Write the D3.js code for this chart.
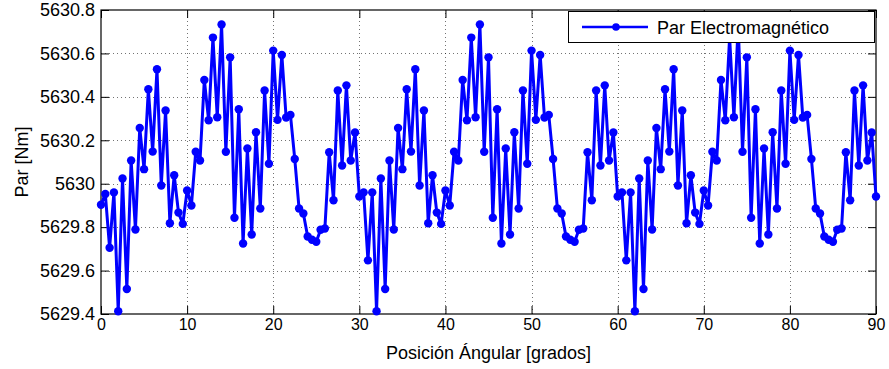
<!DOCTYPE html>
<html>
<head>
<meta charset="utf-8">
<script src="https://cdn.jsdelivr.net/npm/d3@7"></script>
<style>
  body { margin: 0; background: #fff; }
  text { font-family: "Liberation Sans", Arial, Helvetica, sans-serif; fill: #000; }
</style>
</head>
<body>
<div class="chart"></div>
<script>
// torque, one sample every 0.5 deg
const angleStep = 0.5;
const torque = [
  5629.903, 5629.953, 5629.705, 5629.960, 5629.413, 5630.024, 5629.515, 5630.107, 5629.789, 5630.257,
  5630.067, 5630.435, 5630.148, 5630.527, 5629.992, 5630.337, 5629.818, 5630.039, 5629.867, 5629.815,
  5629.969, 5629.900, 5630.147, 5630.107, 5630.478, 5630.292, 5630.673, 5630.306, 5630.733, 5630.147,
  5630.582, 5629.843, 5630.343, 5629.725, 5630.162, 5629.766, 5630.237, 5629.886, 5630.429, 5630.092,
  5630.613, 5630.294, 5630.593, 5630.305, 5630.317, 5630.114, 5629.886, 5629.863, 5629.757, 5629.742,
  5629.733, 5629.788, 5629.794, 5630.145, 5629.924, 5630.429, 5630.084, 5630.453, 5630.107, 5630.236,
  5629.941, 5629.960, 5629.647, 5629.960, 5629.413, 5630.024, 5629.515, 5630.107, 5629.789, 5630.257,
  5630.067, 5630.435, 5630.148, 5630.527, 5629.992, 5630.337, 5629.818, 5630.039, 5629.867, 5629.815,
  5629.969, 5629.900, 5630.147, 5630.107, 5630.478, 5630.292, 5630.673, 5630.306, 5630.733, 5630.147,
  5630.582, 5629.843, 5630.343, 5629.725, 5630.162, 5629.766, 5630.237, 5629.886, 5630.429, 5630.092,
  5630.613, 5630.294, 5630.593, 5630.305, 5630.317, 5630.114, 5629.886, 5629.863, 5629.757, 5629.742,
  5629.733, 5629.788, 5629.794, 5630.145, 5629.924, 5630.429, 5630.084, 5630.453, 5630.107, 5630.236,
  5629.941, 5629.960, 5629.647, 5629.960, 5629.413, 5630.024, 5629.515, 5630.107, 5629.789, 5630.257,
  5630.067, 5630.435, 5630.148, 5630.527, 5629.992, 5630.337, 5629.818, 5630.039, 5629.867, 5629.815,
  5629.969, 5629.900, 5630.147, 5630.107, 5630.478, 5630.292, 5630.673, 5630.306, 5630.733, 5630.147,
  5630.582, 5629.843, 5630.343, 5629.725, 5630.162, 5629.766, 5630.237, 5629.886, 5630.429, 5630.092,
  5630.613, 5630.294, 5630.593, 5630.305, 5630.317, 5630.114, 5629.886, 5629.863, 5629.757, 5629.742,
  5629.733, 5629.788, 5629.794, 5630.145, 5629.924, 5630.429, 5630.084, 5630.453, 5630.107, 5630.236,
  5629.941
];
const xTicks = [0, 10, 20, 30, 40, 50, 60, 70, 80, 90];
const yTicks = [5629.4, 5629.6, 5629.8, 5630, 5630.2, 5630.4, 5630.6, 5630.8];
const yTickLabels = ["5629.4", "5629.6", "5629.8", "5630", "5630.2", "5630.4", "5630.6", "5630.8"];
const seriesName = "Par Electromagnético";

const width = 889, height = 369,
    margin = ({ top: 10, right: 13, bottom: 55, left: 101 });

const data = torque.map((v, i) => ({ angle: i * angleStep, value: v }));

const x = d3.scaleLinear()
    .domain([0, 90])
    .range([margin.left, width - margin.right]);

const y = d3.scaleLinear()
    .domain([5629.4, 5630.8])
    .range([height - margin.bottom, margin.top]);

const svg = d3.select(".chart").append("svg")
    .attr("width", width)
    .attr("height", height);

const x0 = margin.left, x1 = width - margin.right,
    y0 = height - margin.bottom, y1 = margin.top;

// dotted grid
const grid = svg.append("g")
    .attr("stroke", "#000")
    .attr("stroke-opacity", 0.55)
    .attr("stroke-width", 1)
    .attr("stroke-dasharray", "1,3");
grid.selectAll(".gx")
    .data(xTicks.slice(1, -1))
    .join("line")
    .attr("x1", d => Math.round(x(d)) + 0.5).attr("x2", d => Math.round(x(d)) + 0.5)
    .attr("y1", y0).attr("y2", y1);
grid.selectAll(".gy")
    .data(yTicks.slice(1, -1))
    .join("line")
    .attr("y1", d => Math.round(y(d)) + 0.5).attr("y2", d => Math.round(y(d)) + 0.5)
    .attr("x1", x0).attr("x2", x1);

// axes, ticks pointing inwards like matlab
const xAxis = g => g
    .attr("transform", `translate(0,${y0})`)
    .call(d3.axisBottom(x).tickValues(xTicks).tickSizeInner(-8).tickSizeOuter(0).tickPadding(5))
    .call(g => g.select(".domain").remove())
    .call(g => g.selectAll("text").style("font-size", "16px"));

const yAxis = g => g
    .attr("transform", `translate(${x0},0)`)
    .call(d3.axisLeft(y).tickValues(yTicks).tickSizeInner(-8).tickSizeOuter(0).tickPadding(6)
        .tickFormat((d, i) => yTickLabels[i]))
    .call(g => g.select(".domain").remove())
    .call(g => g.selectAll("text").style("font-size", "18px"));

svg.append("g").call(xAxis);
svg.append("g").call(yAxis);

// mirrored ticks on top and right
svg.append("g")
    .attr("transform", `translate(0,${y1})`)
    .call(d3.axisTop(x).tickValues(xTicks).tickSizeInner(-8).tickSizeOuter(0).tickFormat(""))
    .call(g => g.select(".domain").remove());
svg.append("g")
    .attr("transform", `translate(${x1},0)`)
    .call(d3.axisRight(y).tickValues(yTicks).tickSizeInner(-8).tickSizeOuter(0).tickFormat(""))
    .call(g => g.select(".domain").remove());

svg.append("rect")
    .attr("x", x0).attr("y", y1)
    .attr("width", x1 - x0).attr("height", y0 - y1)
    .attr("fill", "none")
    .attr("stroke", "#000")
    .attr("stroke-width", 1.2);

// series
const line = d3.line()
    .x(d => x(d.angle))
    .y(d => y(d.value));

svg.append("path")
    .datum(data)
    .attr("fill", "none")
    .attr("stroke", "#0000ff")
    .attr("stroke-width", 3)
    .attr("stroke-linejoin", "round")
    .attr("d", line);

svg.append("g")
    .attr("fill", "#0000ff")
    .selectAll("circle")
    .data(data)
    .join("circle")
    .attr("cx", d => x(d.angle))
    .attr("cy", d => y(d.value))
    .attr("r", 4.2);

// axis titles
svg.append("text")
    .attr("x", (x0 + x1) / 2)
    .attr("y", 359)
    .attr("text-anchor", "middle")
    .style("font-size", "18px")
    .text("Posición Ángular [grados]");

svg.append("text")
    .attr("transform", `translate(28,${(y0 + y1) / 2}) rotate(-90)`)
    .attr("text-anchor", "middle")
    .style("font-size", "18px")
    .text("Par [Nm]");

// legend, drawn over the data
const legend = svg.append("g");
legend.append("rect")
    .attr("x", 568.5).attr("y", 11.5)
    .attr("width", 306).attr("height", 31)
    .attr("fill", "#fff")
    .attr("stroke", "#000")
    .attr("stroke-width", 1);
legend.append("line")
    .attr("x1", 582).attr("x2", 648)
    .attr("y1", 27).attr("y2", 27)
    .attr("stroke", "#0000ff")
    .attr("stroke-width", 2.5);
legend.append("circle")
    .attr("cx", 616).attr("cy", 27)
    .attr("r", 3.8)
    .attr("fill", "#0000ff");
legend.append("text")
    .attr("x", 657).attr("y", 34)
    .style("font-size", "18px")
    .text(seriesName);
</script>
</body>
</html>
